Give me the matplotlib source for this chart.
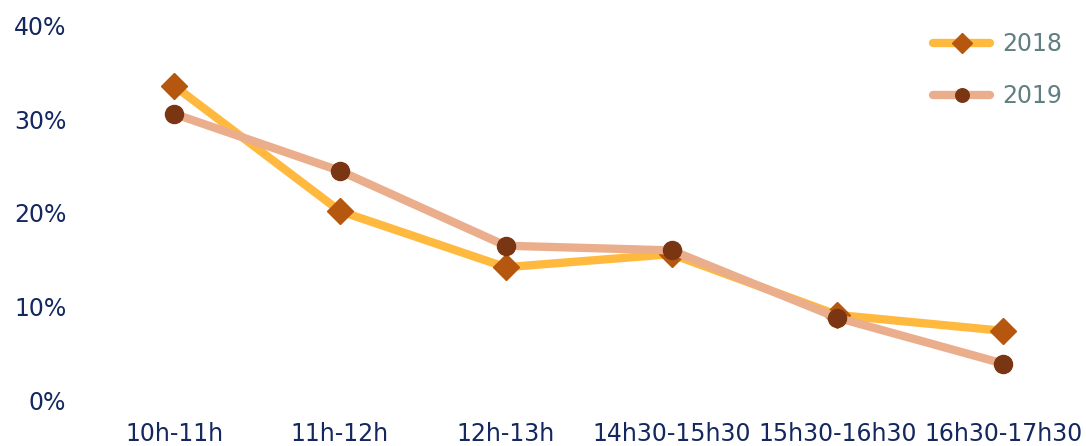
import matplotlib.pyplot as plt
from matplotlib.ticker import PercentFormatter

# ----- datos -----
franjas = ["10h-11h", "11h-12h", "12h-13h", "14h30-15h30", "15h30-16h30", "16h30-17h30"]
v2018 = [33.6, 20.2, 14.2, 15.6, 9.1, 7.4]
v2019 = [30.6, 24.5, 16.5, 16.0, 8.8, 3.9]

navy = "#14285F"

fig = plt.figure(figsize=(10.86, 4.46), dpi=100)
ax = fig.add_axes([0.084, 0.103, 0.916, 0.839])

ax.plot(franjas, v2018, color="#FFB93F", lw=6, marker="D", ms=13,
        mfc="#B5570E", mec="#B5570E", label="2018", solid_capstyle="round")
ax.plot(franjas, v2019, color="#EBAE8C", lw=6, marker="o", ms=13,
        mfc="#7A3512", mec="#7A3512", label="2019", solid_capstyle="round")

ax.set_ylim(0, 40)
ax.set_xlim(-0.5, 5.5)
ax.set_yticks([0, 10, 20, 30, 40])
ax.yaxis.set_major_formatter(PercentFormatter(decimals=0))
ax.tick_params(axis="both", length=0, labelsize=17, labelcolor=navy)
ax.tick_params(axis="y", pad=18)
ax.tick_params(axis="x", pad=16)
for s in ax.spines.values():
    s.set_visible(False)

leg = ax.legend(loc="upper right", frameon=False, fontsize=17, handlelength=2.4,
                labelspacing=1.2, markerscale=0.75, handletextpad=0.5,
                bbox_to_anchor=(0.997, 1.04))
for t in leg.get_texts():
    t.set_color("#5F7F80")

fig.savefig("out.png", dpi=100)
